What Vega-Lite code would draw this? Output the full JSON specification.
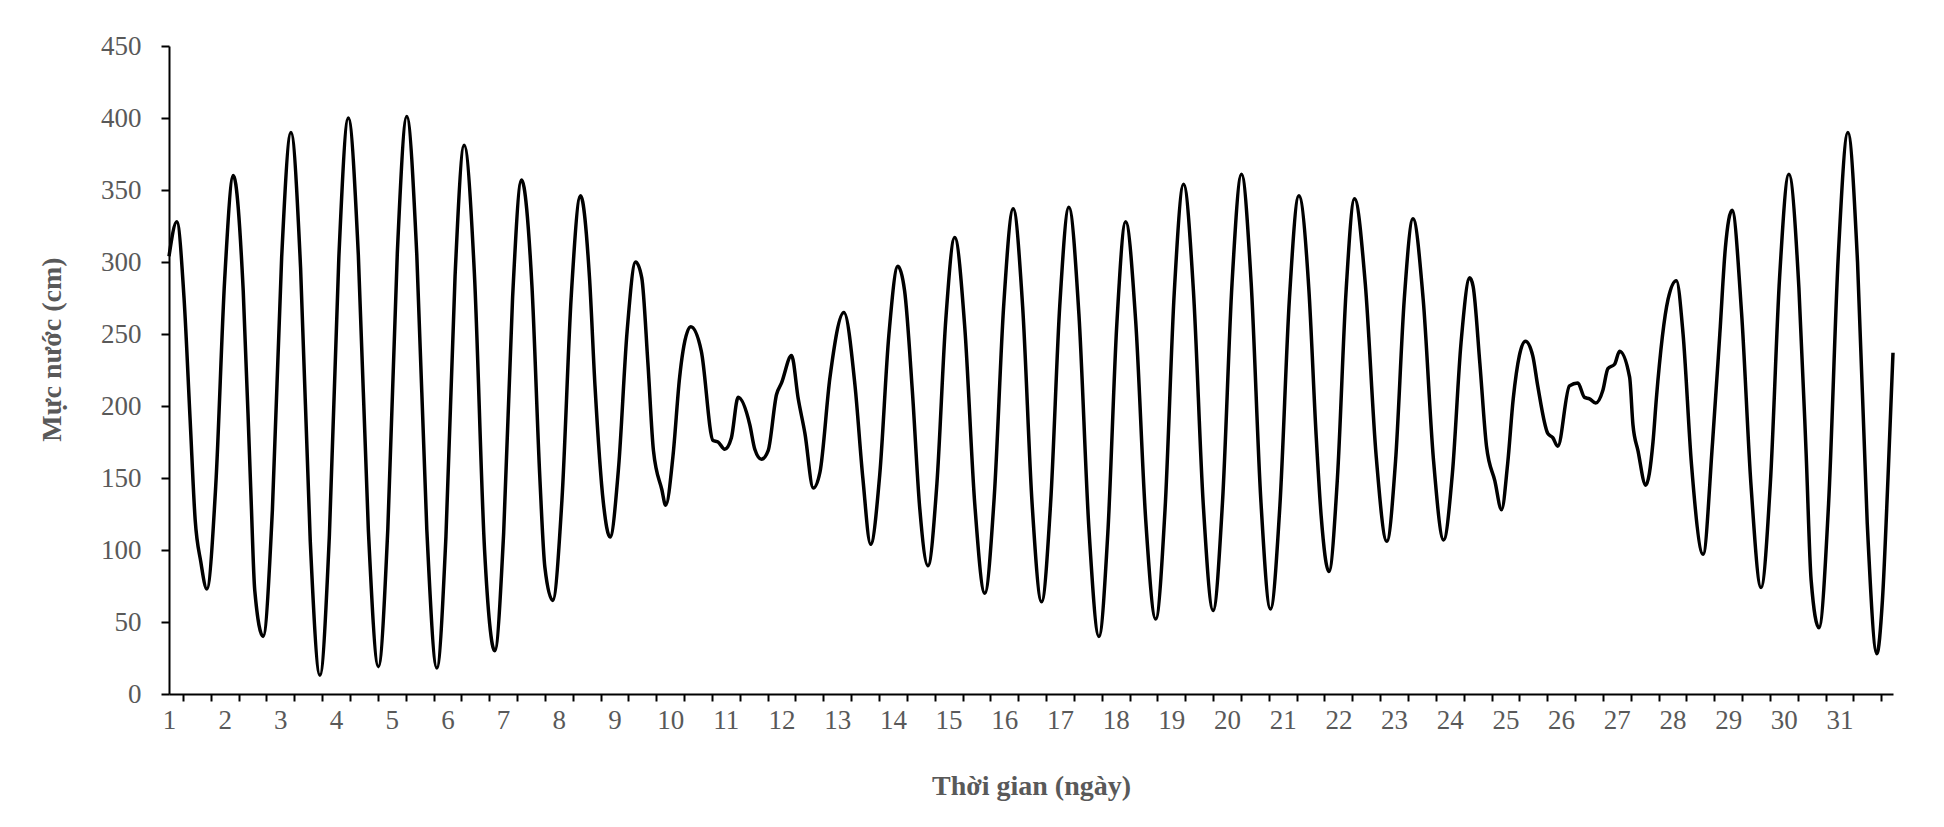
{
  "$schema": "https://vega.github.io/schema/vega-lite/v6.json",
  "width": 1724,
  "height": 648,
  "autosize": {"type": "none"},
  "padding": {"left": 169, "top": 46, "right": 51, "bottom": 133},
  "background": "white",
  "config": {"view": {"stroke": null}, "font": "Liberation Serif"},
  "data": {"values": [
    {"d": 1.00, "h": 304}, {"d": 1.14, "h": 328}, {"d": 1.27, "h": 275}, {"d": 1.38, "h": 190}, {"d": 1.47, "h": 121}, {"d": 1.57, "h": 92}, {"d": 1.68, "h": 73},
    {"d": 1.84, "h": 145}, {"d": 2.00, "h": 288}, {"d": 2.155, "h": 360}, {"d": 2.333, "h": 280}, {"d": 2.47, "h": 140}, {"d": 2.54, "h": 72}, {"d": 2.69, "h": 40},
    {"d": 2.857, "h": 128}, {"d": 3.023, "h": 303}, {"d": 3.19, "h": 390}, {"d": 3.363, "h": 296}, {"d": 3.537, "h": 106}, {"d": 3.71, "h": 13},
    {"d": 3.88, "h": 110}, {"d": 4.05, "h": 303}, {"d": 4.22, "h": 400}, {"d": 4.40, "h": 305}, {"d": 4.58, "h": 114}, {"d": 4.76, "h": 19},
    {"d": 4.93, "h": 115}, {"d": 5.10, "h": 306}, {"d": 5.27, "h": 401}, {"d": 5.45, "h": 305}, {"d": 5.63, "h": 114}, {"d": 5.81, "h": 18},
    {"d": 5.973, "h": 109}, {"d": 6.137, "h": 290}, {"d": 6.30, "h": 381}, {"d": 6.483, "h": 293}, {"d": 6.667, "h": 100}, {"d": 6.85, "h": 30},
    {"d": 7.01, "h": 112}, {"d": 7.17, "h": 275}, {"d": 7.33, "h": 357}, {"d": 7.517, "h": 284}, {"d": 7.66, "h": 150}, {"d": 7.75, "h": 88}, {"d": 7.89, "h": 65},
    {"d": 8.057, "h": 135}, {"d": 8.223, "h": 276}, {"d": 8.39, "h": 346}, {"d": 8.55, "h": 290}, {"d": 8.65, "h": 214}, {"d": 8.80, "h": 133}, {"d": 8.92, "h": 109},
    {"d": 9.073, "h": 157}, {"d": 9.227, "h": 252}, {"d": 9.38, "h": 300}, {"d": 9.49, "h": 289}, {"d": 9.60, "h": 230}, {"d": 9.70, "h": 169}, {"d": 9.85, "h": 142}, {"d": 9.92, "h": 131},
    {"d": 10.05, "h": 165}, {"d": 10.17, "h": 220}, {"d": 10.23, "h": 238}, {"d": 10.37, "h": 255}, {"d": 10.56, "h": 238}, {"d": 10.77, "h": 176}, {"d": 10.86, "h": 175}, {"d": 10.98, "h": 170},
    {"d": 11.10, "h": 178}, {"d": 11.22, "h": 206}, {"d": 11.43, "h": 187}, {"d": 11.52, "h": 170}, {"d": 11.64, "h": 163}, {"d": 11.76, "h": 169}, {"d": 11.91, "h": 208}, {"d": 12.00, "h": 216},
    {"d": 12.18, "h": 235}, {"d": 12.30, "h": 205}, {"d": 12.42, "h": 181}, {"d": 12.57, "h": 143}, {"d": 12.69, "h": 154}, {"d": 12.87, "h": 220}, {"d": 13.12, "h": 265},
    {"d": 13.32, "h": 214}, {"d": 13.46, "h": 150}, {"d": 13.60, "h": 104}, {"d": 13.763, "h": 152}, {"d": 13.927, "h": 249}, {"d": 14.09, "h": 297},
    {"d": 14.21, "h": 280}, {"d": 14.35, "h": 210}, {"d": 14.48, "h": 130}, {"d": 14.63, "h": 89}, {"d": 14.79, "h": 146}, {"d": 14.95, "h": 260}, {"d": 15.11, "h": 317},
    {"d": 15.29, "h": 255}, {"d": 15.47, "h": 132}, {"d": 15.65, "h": 70}, {"d": 15.82, "h": 137}, {"d": 15.99, "h": 270}, {"d": 16.16, "h": 337},
    {"d": 16.33, "h": 269}, {"d": 16.50, "h": 132}, {"d": 16.67, "h": 64}, {"d": 16.833, "h": 133}, {"d": 16.997, "h": 270}, {"d": 17.16, "h": 338},
    {"d": 17.34, "h": 264}, {"d": 17.52, "h": 115}, {"d": 17.70, "h": 40}, {"d": 17.86, "h": 112}, {"d": 18.02, "h": 256}, {"d": 18.18, "h": 328},
    {"d": 18.36, "h": 259}, {"d": 18.54, "h": 121}, {"d": 18.72, "h": 52}, {"d": 18.887, "h": 128}, {"d": 19.053, "h": 279}, {"d": 19.22, "h": 354},
    {"d": 19.397, "h": 280}, {"d": 19.573, "h": 132}, {"d": 19.75, "h": 58}, {"d": 19.92, "h": 134}, {"d": 20.09, "h": 285}, {"d": 20.26, "h": 361},
    {"d": 20.433, "h": 286}, {"d": 20.607, "h": 135}, {"d": 20.78, "h": 59}, {"d": 20.95, "h": 131}, {"d": 21.12, "h": 274}, {"d": 21.29, "h": 346},
    {"d": 21.47, "h": 281}, {"d": 21.60, "h": 180}, {"d": 21.69, "h": 124}, {"d": 21.83, "h": 85}, {"d": 21.983, "h": 150}, {"d": 22.137, "h": 279}, {"d": 22.29, "h": 344},
    {"d": 22.483, "h": 285}, {"d": 22.677, "h": 166}, {"d": 22.87, "h": 106}, {"d": 23.027, "h": 162}, {"d": 23.183, "h": 274}, {"d": 23.34, "h": 330},
    {"d": 23.523, "h": 274}, {"d": 23.707, "h": 163}, {"d": 23.89, "h": 107}, {"d": 24.047, "h": 153}, {"d": 24.203, "h": 244}, {"d": 24.36, "h": 289},
    {"d": 24.42, "h": 283}, {"d": 24.54, "h": 230}, {"d": 24.66, "h": 172}, {"d": 24.81, "h": 148}, {"d": 24.93, "h": 128}, {"d": 25.04, "h": 160}, {"d": 25.14, "h": 205}, {"d": 25.36, "h": 245},
    {"d": 25.49, "h": 235}, {"d": 25.58, "h": 214}, {"d": 25.76, "h": 181}, {"d": 25.85, "h": 178}, {"d": 25.94, "h": 172}, {"d": 26.15, "h": 214}, {"d": 26.30, "h": 216},
    {"d": 26.42, "h": 206}, {"d": 26.51, "h": 205}, {"d": 26.62, "h": 202}, {"d": 26.75, "h": 211}, {"d": 26.84, "h": 226}, {"d": 26.96, "h": 229}, {"d": 27.05, "h": 238},
    {"d": 27.23, "h": 220}, {"d": 27.29, "h": 187}, {"d": 27.38, "h": 169}, {"d": 27.52, "h": 145}, {"d": 27.65, "h": 175}, {"d": 27.71, "h": 205}, {"d": 27.92, "h": 274}, {"d": 28.07, "h": 287},
    {"d": 28.19, "h": 250}, {"d": 28.34, "h": 160}, {"d": 28.55, "h": 97}, {"d": 28.72, "h": 175}, {"d": 28.85, "h": 250}, {"d": 28.95, "h": 310}, {"d": 29.07, "h": 336},
    {"d": 29.24, "h": 265}, {"d": 29.41, "h": 145}, {"d": 29.59, "h": 74}, {"d": 29.757, "h": 146}, {"d": 29.923, "h": 289}, {"d": 30.09, "h": 361},
    {"d": 30.27, "h": 282}, {"d": 30.40, "h": 167}, {"d": 30.49, "h": 79}, {"d": 30.63, "h": 46}, {"d": 30.803, "h": 132}, {"d": 30.977, "h": 304}, {"d": 31.15, "h": 390},
    {"d": 31.323, "h": 300}, {"d": 31.497, "h": 119}, {"d": 31.67, "h": 28}, {"d": 31.77, "h": 65}, {"d": 31.87, "h": 150}, {"d": 31.96, "h": 237}
  ]},
  "mark": {"type": "line", "color": "black", "strokeWidth": 3.5, "interpolate": "monotone"},
  "encoding": {
    "x": {
      "field": "d", "type": "quantitative",
      "scale": {"domain": [1, 31.96], "nice": false, "zero": false},
      "axis": {
        "values": [1,1.25,1.75,2,2.25,2.75,3,3.25,3.75,4,4.25,4.75,5,5.25,5.75,6,6.25,6.75,7,7.25,7.75,8,8.25,8.75,9,9.25,9.75,10,10.25,10.75,11,11.25,11.75,12,12.25,12.75,13,13.25,13.75,14,14.25,14.75,15,15.25,15.75,16,16.25,16.75,17,17.25,17.75,18,18.25,18.75,19,19.25,19.75,20,20.25,20.75,21,21.25,21.75,22,22.25,22.75,23,23.25,23.75,24,24.25,24.75,25,25.25,25.75,26,26.25,26.75,27,27.25,27.75,28,28.25,28.75,29,29.25,29.75,30,30.25,30.75,31,31.25,31.75],
        "labelExpr": "datum.value % 1 === 0 ? format(datum.value, 'd') : ''",
        "labelOverlap": false,
        "labelFlush": false,
        "labelFont": "Liberation Serif", "labelFontSize": 27, "labelColor": "#595959", "labelPadding": 6,
        "tickSize": 7, "tickWidth": 2, "tickColor": "black",
        "tickOpacity": {"condition": {"test": "datum.value % 1 === 0", "value": 0}, "value": 1},
        "domainColor": "black", "domainWidth": 2, "grid": false,
        "title": "Thời gian (ngày)", "titleFont": "Liberation Serif", "titleFontSize": 28, "titleFontWeight": "bold", "titleColor": "#595959",
        "titleBaseline": "middle", "titleY": 92
      }
    },
    "y": {
      "field": "h", "type": "quantitative",
      "scale": {"domain": [0, 450], "nice": false},
      "axis": {
        "values": [0, 50, 100, 150, 200, 250, 300, 350, 400, 450],
        "labelFont": "Liberation Serif", "labelFontSize": 27, "labelColor": "#595959", "labelPadding": 20,
        "tickSize": 8, "tickWidth": 2, "tickColor": "black",
        "domainColor": "black", "domainWidth": 2, "grid": false,
        "title": "Mực nước (cm)", "titleFont": "Liberation Serif", "titleFontSize": 28, "titleFontWeight": "bold", "titleColor": "#595959",
        "titleAngle": -90, "titleBaseline": "middle", "titleAlign": "center", "titleX": -117, "titleY": 303
      }
    }
  }
}
